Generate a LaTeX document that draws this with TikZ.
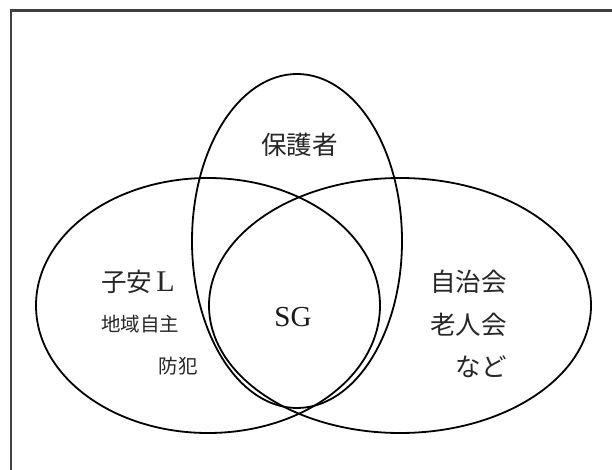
\documentclass[tikz,border=0pt]{standalone}
\usepackage{fontspec}
\newfontfamily\cjk{Noto Sans CJK JP}
\newfontfamily\latinserif{Liberation Serif}
\begin{document}
\begin{tikzpicture}[x=1pt,y=-1pt,
  venn/.style={draw=black,line width=1.8pt},
  frameline/.style={draw=black!75,line width=2.2pt},
  big/.style={inner sep=0pt,text=black!85,font=\cjk\fontsize{25.5pt}{30pt}\selectfont},
  small/.style={inner sep=0pt,text=black!85,font=\cjk\fontsize{19.5pt}{24pt}\selectfont},
  latin/.style={inner sep=0pt,text=black!90,font=\latinserif\fontsize{29pt}{34pt}\selectfont}]
\useasboundingbox (0,0) rectangle (612,470);
\clip (0,0) rectangle (612,470);
\fill[white] (0,0) rectangle (612,470);
\draw[frameline] (10.7,480) -- (10.7,10.5) -- (620,10.5);
% ellipses
\draw[venn] (208,305.5) ellipse [x radius=172pt, y radius=127.5pt];
\draw[venn] (400,305.5) ellipse [x radius=191pt, y radius=127.5pt];
\draw[venn] (297,241) ellipse [x radius=105pt, y radius=167pt];
% labels
\node[big,anchor=base] (hogosha) at (299.5,154.5) {保護者};
\node[big,anchor=base west] (koyasu) at (101,291) {子安\,{\latinserif\fontsize{30pt}{34pt}\selectfont L}};
\node[small,anchor=base west] (chiiki) at (101,331.5) {地域自主};
\node[small,anchor=base east] (bohan) at (198,373.5) {防犯};
\node[latin,anchor=base] (sg) at (293,326) {SG};
\node[big,anchor=base east] (jichi) at (507,291) {自治会};
\node[big,anchor=base east] (roujin) at (507,334.5) {老人会};
\node[big,anchor=base east] (nado) at (507,376) {など};
\end{tikzpicture}
\end{document}
